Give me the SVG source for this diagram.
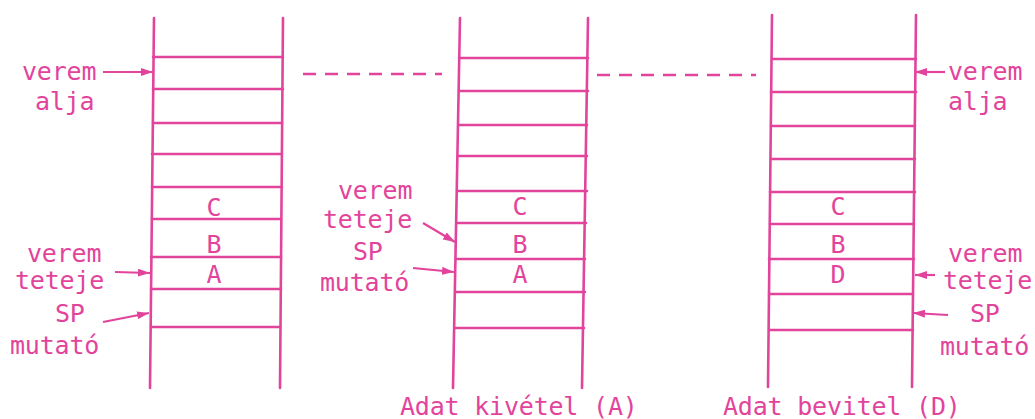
<svg xmlns="http://www.w3.org/2000/svg" width="1035" height="419" viewBox="0 0 1035 419">
<defs>
<style>
.ln{stroke:#e2449c;stroke-width:2.6;fill:none;stroke-linecap:round}
.t{font-family:"DejaVu Sans Mono","Liberation Mono",monospace;font-size:25px;letter-spacing:-0.2px;fill:#e2449c}
.c{text-anchor:middle}
.ar{stroke:#e2449c;stroke-width:2.2;fill:none;marker-end:url(#ah)}
.ds{stroke:#e2449c;stroke-width:2.6;fill:none;stroke-dasharray:13 9}
</style>
<marker id="ah" viewBox="0 0 12 8" refX="12" refY="4" markerWidth="12" markerHeight="8" markerUnits="userSpaceOnUse" orient="auto">
<path d="M0,0 L12,4 L0,8 z" fill="#e2449c"/>
</marker>
</defs>
<rect width="1035" height="419" fill="#ffffff"/>

<g id="stack1">
<path class="ln" d="M154,18 L150,388 M283,18 L280,388"/>
<path class="ln" d="M153,57 H283 M153,89 H283 M153,123 H282 M152,154 H282 M152,187 H282 M152,219 H281 M151,257 H281 M151,289 H281 M151,327 H280"/>
<text class="t c" x="214" y="216">C</text>
<text class="t c" x="214" y="253">B</text>
<text class="t c" x="214" y="283">A</text>
</g>

<g id="stack2">
<path class="ln" d="M460,18 L453,388 M588,18 L582,388"/>
<path class="ln" d="M459,58 H588 M459,91 H588 M459,125 H587 M458,156 H587 M458,191 H587 M457,223 H586 M456,259 H585 M456,292 H585 M455,328 H584"/>
<text class="t c" x="520" y="215">C</text>
<text class="t c" x="520" y="253">B</text>
<text class="t c" x="520" y="283">A</text>
</g>

<g id="stack3">
<path class="ln" d="M772,15 L768,387 M916,15 L912,387"/>
<path class="ln" d="M772,59 H916 M771,92 H916 M771,126 H915 M771,159 H915 M770,192 H915 M770,224 H914 M769,259 H914 M769,294 H913 M769,330 H913"/>
<text class="t c" x="838" y="215">C</text>
<text class="t c" x="838" y="253">B</text>
<text class="t c" x="838" y="283">D</text>
</g>

<g id="labels1">
<text class="t" x="22" y="80">verem</text>
<text class="t" x="35" y="110">alja</text>
<text class="t" x="27" y="262">verem</text>
<text class="t" x="15" y="289">teteje</text>
<text class="t" x="55" y="322">SP</text>
<text class="t" x="10" y="354">mutató</text>
</g>

<g id="labels2">
<text class="t" x="338" y="199">verem</text>
<text class="t" x="323" y="228">teteje</text>
<text class="t" x="353" y="260">SP</text>
<text class="t" x="320" y="291">mutató</text>
<text class="t" x="400" y="415">Adat kivétel (A)</text>
</g>

<g id="labels3">
<text class="t" x="948" y="80">verem</text>
<text class="t" x="948" y="110">alja</text>
<text class="t" x="948" y="262">verem</text>
<text class="t" x="943" y="289">teteje</text>
<text class="t" x="970" y="322">SP</text>
<text class="t" x="940" y="355">mutató</text>
<text class="t" x="723" y="415">Adat bevitel (D)</text>
</g>

<g id="connectors">
<path class="ds" d="M303,74 H442"/>
<path class="ds" d="M597,75 H756"/>
<path class="ar" d="M103,72 L153,72"/>
<path class="ar" d="M115,272 L150,273"/>
<path class="ar" d="M103,322 L149,313"/>
<path class="ar" d="M423,223 L455,242"/>
<path class="ar" d="M413,268 L454,272"/>
<path class="ar" d="M945,72 L915,72"/>
<path class="ar" d="M935,275 L915,275"/>
<path class="ar" d="M948,315 L913,313"/>
</g>
</svg>
